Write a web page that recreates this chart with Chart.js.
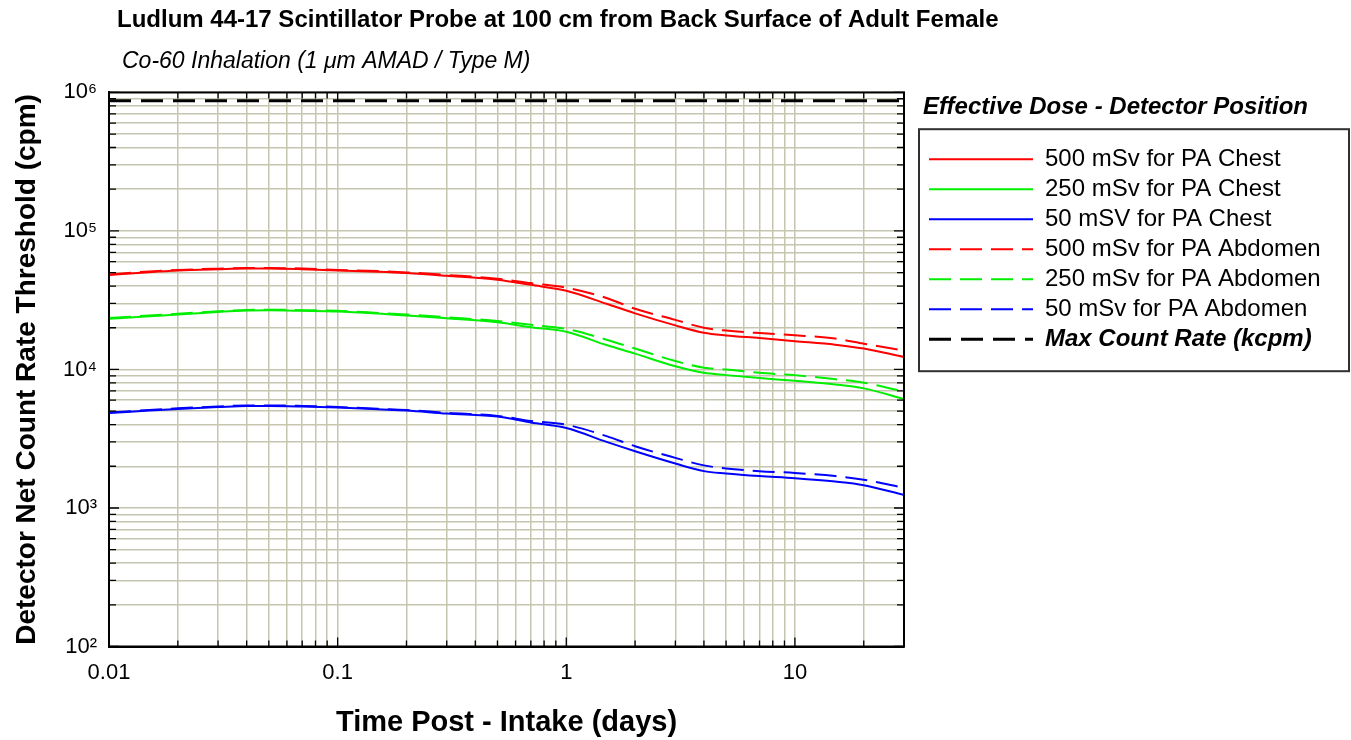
<!DOCTYPE html>
<html>
<head>
<meta charset="utf-8">
<script src="https://cdn.jsdelivr.net/npm/chart.js@4.4.1/dist/chart.umd.min.js"></script>
<style>
  html, body { margin: 0; padding: 0; background: #ffffff; }
  #wrap { position: relative; width: 1351px; height: 740px; }
</style>
</head>
<body>
<div id="wrap"><canvas id="c"></canvas></div>
<script>
// ---------- data ----------
const days     = [0.01, 0.015, 0.02, 0.03, 0.04, 0.05, 0.07, 0.1, 0.15, 0.2, 0.3, 0.5, 0.7, 1, 1.5, 2, 3, 4, 5, 7, 10, 15, 20, 30];
const chest500 = [48000, 50400, 51800, 52900, 53500, 53500, 52900, 51800, 50700, 49600, 47400, 44400, 40800, 37000, 29800, 25400, 20800, 18400, 17600, 16850, 16000, 15100, 14150, 12300];
const chest250 = [23200, 24200, 24900, 26000, 26600, 26700, 26500, 26200, 25300, 24500, 23400, 21900, 20200, 18700, 15000, 13000, 10550, 9450, 9100, 8660, 8290, 7800, 7300, 6120];
const chest50  = [4840, 5050, 5190, 5350, 5450, 5450, 5400, 5310, 5150, 5050, 4800, 4570, 4140, 3775, 3000, 2570, 2095, 1845, 1775, 1700, 1640, 1550, 1460, 1240];
const abd500   = [48500, 51000, 52300, 53400, 54000, 54000, 53500, 52300, 51300, 50200, 48100, 45200, 42000, 39000, 32800, 27400, 22800, 20000, 19100, 18300, 17650, 16700, 15350, 13700];
const abd250   = [23500, 24500, 25200, 26300, 26900, 27000, 26800, 26500, 25600, 24900, 23800, 22400, 21000, 19600, 16400, 14150, 11500, 10300, 10000, 9450, 9100, 8500, 8030, 6910];
const abd50    = [4880, 5100, 5240, 5400, 5500, 5500, 5450, 5360, 5200, 5100, 4860, 4620, 4250, 3990, 3300, 2790, 2300, 2030, 1930, 1845, 1790, 1700, 1600, 1400];
const maxDays  = [0.01, 30];
const maxCount = [870000, 870000];

const seriesLabels = ['500 mSv for PA Chest', '250 mSv for PA Chest', '50 mSV for PA Chest',
                      '500 mSv for PA Abdomen', '250 mSv for PA Abdomen', '50 mSv for PA Abdomen',
                      'Max Count Rate (kcpm)'];

const xTickValues = [0.01, 0.1, 1, 10];
const xTickLabels = ['0.01', '0.1', '1', '10'];
const yTickValues = [100, 1000, 10000, 100000, 1000000];
const yTickLabels = ['10\u00B2', '10\u00B3', '10\u2074', '10\u2075', '10\u2076'];

const titleText    = 'Ludlum 44-17 Scintillator Probe at 100 cm from Back Surface of Adult Female';
const subtitleText = 'Co-60 Inhalation (1 \u03BCm AMAD / Type M)';
const legendTitle  = 'Effective Dose - Detector Position';
const xTitle = 'Time Post - Intake (days)';
const yTitle = 'Detector Net Count Rate Threshold (cpm)';

// ---------- helpers ----------
const FONT = "'Liberation Sans', Arial, 'DejaVu Sans', sans-serif";
const RED = '#ff0000', GREEN = '#00ee00', BLUE = '#0000ff';
const DASH = [22, 9];

function pts(xs, ys) { return xs.map((x, i) => ({ x: x, y: ys[i] })); }
function labelFor(v, vals, labs) {
  for (let i = 0; i < vals.length; i++) {
    if (Math.abs(Math.log10(v) - Math.log10(vals[i])) < 1e-6) return labs[i];
  }
  return '';
}
function logTicks(min, max) {
  const out = [];
  for (let e = Math.floor(Math.log10(min)); e <= Math.ceil(Math.log10(max)); e++) {
    for (let k = 1; k <= 9; k++) {
      const v = parseFloat((k * Math.pow(10, e)).toPrecision(6));
      if (v >= min * 0.9999 && v <= max * 1.0001) out.push({ value: v });
    }
  }
  return out;
}
function isDecade(v) { return Math.abs(Math.log10(v) - Math.round(Math.log10(v))) < 1e-6; }

function line(label, data, color, dash, width) {
  return {
    label: label, data: data, borderColor: color, backgroundColor: color,
    borderWidth: width, borderDash: dash, pointRadius: 0, pointHoverRadius: 0,
    fill: false, cubicInterpolationMode: 'monotone', borderCapStyle: 'butt'
  };
}

Chart.defaults.font.family = FONT;
Chart.defaults.color = '#000';

const LEG_BOX = 104;
const LEG_FONT = 24;

const customPlugin = {
  id: 'custom',
  beforeLayout(chart) {
    const lg = chart.legend;
    if (lg && !lg._patched) {
      const orig = lg.fit.bind(lg);
      lg.fit = function () { orig(); this.width = 447; };
      lg._patched = true;
    }
  },
  afterLayout(chart) {
    chart.boxes.forEach(b => {
      if (b === chart.legend) { b.left += 19; b.right += 19; }
      else if (b.options && b.options.text === titleText) { b.left = 117; }
      else if (b.options && b.options.text === subtitleText) { b.left = 122; }
    });
  },
  afterDraw(chart) {
    const ctx = chart.ctx, a = chart.chartArea, xs = chart.scales.x, ys = chart.scales.y;
    ctx.save();
    // inward ticks on all four sides
    ctx.strokeStyle = '#000';
    ctx.lineWidth = 1.3;
    ctx.beginPath();
    ys.ticks.forEach(t => {
      const p = ys.getPixelForValue(t.value);
      const L = isDecade(t.value) ? 10 : 7;
      ctx.moveTo(a.left, p); ctx.lineTo(a.left + L, p);
      ctx.moveTo(a.right, p); ctx.lineTo(a.right - L, p);
    });
    xs.ticks.forEach(t => {
      const p = xs.getPixelForValue(t.value);
      const L = isDecade(t.value) ? 9 : 6;
      ctx.moveTo(p, a.bottom); ctx.lineTo(p, a.bottom - L);
      ctx.moveTo(p, a.top); ctx.lineTo(p, a.top + L);
    });
    ctx.stroke();
    // plot frame
    ctx.lineWidth = 2;
    ctx.strokeRect(a.left, a.top, a.right - a.left, a.bottom - a.top);

    // legend frame and bold-italic last entry
    const lg = chart.legend;
    if (lg && lg.legendHitBoxes && lg.legendHitBoxes.length) {
      const hb = lg.legendHitBoxes;
      const first = hb[0], last = hb[hb.length - 1];
      const top = first.top - 18;
      const bottom = last.top + last.height + 20;
      ctx.strokeStyle = '#303030';
      ctx.lineWidth = 2;
      ctx.strokeRect(lg.left - 4, top, 1349 - (lg.left - 4), bottom - top);
      ctx.fillStyle = '#000';
      ctx.font = 'italic bold ' + LEG_FONT + 'px ' + FONT;
      ctx.textAlign = 'left';
      ctx.textBaseline = 'middle';
      ctx.fillText(seriesLabels[6], last.left + LEG_BOX + LEG_FONT / 2, last.top + last.height / 2);
    }
    ctx.restore();
  }
};

const GRID = '#c6c6b0';

new Chart(document.getElementById('c'), {
  type: 'line',
  data: {
    datasets: [
      line(seriesLabels[0], pts(days, chest500), RED, [], 2),
      line(seriesLabels[1], pts(days, chest250), GREEN, [], 2),
      line(seriesLabels[2], pts(days, chest50), BLUE, [], 2),
      line(seriesLabels[3], pts(days, abd500), RED, DASH, 2),
      line(seriesLabels[4], pts(days, abd250), GREEN, DASH, 2),
      line(seriesLabels[5], pts(days, abd50), BLUE, DASH, 2),
      line(seriesLabels[6], pts(maxDays, maxCount), '#000000', [22, 10], 3)
    ]
  },
  options: {
    responsive: true,
    maintainAspectRatio: false,
    animation: false,
    layout: { padding: 0 },
    scales: {
      x: {
        type: 'logarithmic',
        min: 0.01, max: 30,
        afterBuildTicks: s => { s.ticks = logTicks(0.01, 30); },
        afterFit: s => { s.height = 93.5; },
        ticks: {
          autoSkip: false, maxRotation: 0, minRotation: 0, padding: 13,
          font: { size: 22 }, color: '#000',
          callback: v => labelFor(v, xTickValues, xTickLabels)
        },
        grid: { color: GRID, lineWidth: 1.5, drawTicks: false },
        border: { display: true, color: '#000', width: 2 },
        title: { display: true, text: xTitle, font: { size: 29, weight: 'bold' }, padding: { top: 0, bottom: 0 }, color: '#000' }
      },
      y: {
        type: 'logarithmic',
        min: 100, max: 1000000,
        afterBuildTicks: s => { s.ticks = logTicks(100, 1000000); },
        afterFit: s => { s.width = 109; },
        ticks: {
          autoSkip: false, padding: 12,
          font: { size: 22 }, color: '#000',
          callback: v => labelFor(v, yTickValues, yTickLabels)
        },
        grid: { color: GRID, lineWidth: 1.5, drawTicks: false },
        border: { display: true, color: '#000', width: 2 },
        title: { display: true, text: yTitle, font: { size: 28, weight: 'bold' }, padding: { top: 10, bottom: 0 }, color: '#000' }
      }
    },
    plugins: {
      title: {
        display: true, text: titleText, align: 'start', color: '#000',
        font: { size: 24, weight: 'bold' }, padding: { top: 6, bottom: 4 }
      },
      subtitle: {
        display: true, text: subtitleText, align: 'start', color: '#000',
        font: { size: 23, style: 'italic', weight: 'normal' }, padding: { top: 9, bottom: 17 }
      },
      legend: {
        display: true, position: 'right', align: 'start', fullSize: false,
        title: {
          display: true, text: legendTitle, position: 'start', color: '#000',
          font: { size: 24, weight: 'bold', style: 'italic' }, padding: { top: 3, bottom: 17 }
        },
        labels: {
          usePointStyle: true, pointStyle: 'line', pointStyleWidth: LEG_BOX,
          boxHeight: LEG_FONT, padding: 6, color: '#000',
          font: { size: LEG_FONT },
          generateLabels: function (chart) {
            const items = Chart.defaults.plugins.legend.labels.generateLabels(chart);
            items.forEach(it => {
              const ds = chart.data.datasets[it.datasetIndex];
              it.pointStyle = 'line';
              it.strokeStyle = ds.borderColor;
              it.fillStyle = ds.borderColor;
              it.lineWidth = ds.borderWidth;
              it.lineDash = ds.borderDash;
              it.lineCap = 'butt';
              if (it.text === seriesLabels[6]) it.fontColor = 'rgba(0,0,0,0)';
            });
            return items;
          }
        }
      },
      tooltip: { enabled: false }
    }
  },
  plugins: [customPlugin]
});
</script>
</body>
</html>
